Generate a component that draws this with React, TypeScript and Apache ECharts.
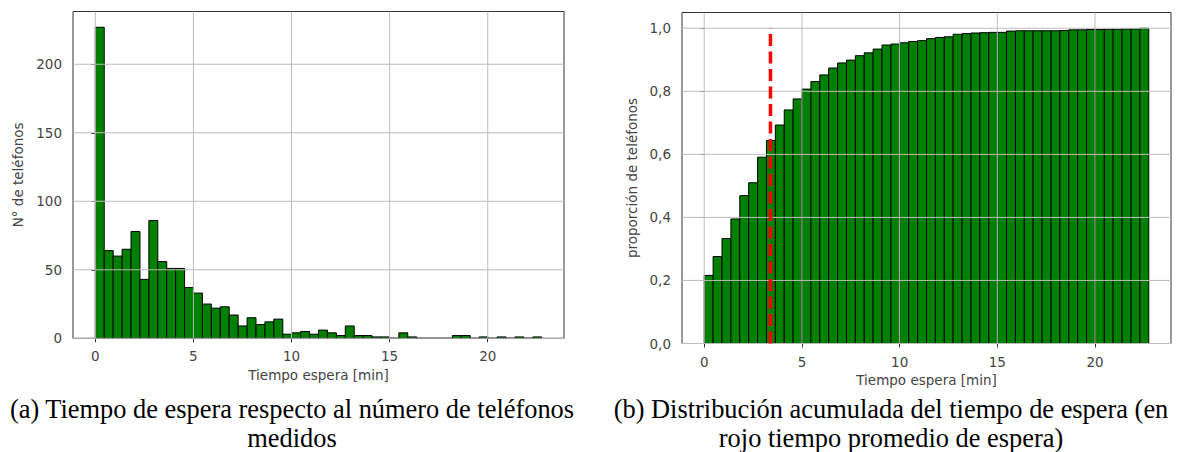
import React, { useEffect, useRef } from "react";
import * as echarts from "echarts";

// ---- data ----
const BIN_START = 0;
const BIN_WIDTH = 0.455; // minutes per histogram bin (50 bins)
const COUNTS = [
  227, 64, 60, 65, 78, 43, 86, 56, 51, 51,
  37, 33, 25, 22, 23, 17, 9, 15, 10, 12,
  14, 3, 4, 5, 3, 6, 4, 2, 9, 2,
  2, 1, 1, 0, 4, 1, 0, 0, 0, 0,
  2, 2, 0, 1, 0, 1, 0, 1, 0, 1,
];
const CUMULATIVE = [
  0.216, 0.276, 0.333, 0.395, 0.469, 0.51, 0.591, 0.644, 0.693, 0.741,
  0.776, 0.807, 0.831, 0.852, 0.874, 0.89, 0.899, 0.913, 0.922, 0.934,
  0.947, 0.95, 0.954, 0.958, 0.961, 0.967, 0.971, 0.973, 0.981, 0.983,
  0.985, 0.986, 0.987, 0.987, 0.991, 0.992, 0.992, 0.992, 0.992, 0.992,
  0.993, 0.995, 0.995, 0.996, 0.996, 0.997, 0.997, 0.998, 0.998, 1.0,
];
const MEAN_WAIT = 3.39;
const X_TICKS = [0, 5, 10, 15, 20];
const Y_TICKS_COUNT = [0, 50, 100, 150, 200];
const Y_TICKS_PROP = [0, 0.2, 0.4, 0.6, 0.8, 1.0];

const X_LABEL = "Tiempo espera [min]";
const Y_LABEL_COUNT = "N° de teléfonos";
const Y_LABEL_PROP = "proporción de teléfonos";
const CAPTION_A = ["(a) Tiempo de espera respecto al número de teléfonos", "medidos"];
const CAPTION_B = ["(b) Distribución acumulada del tiempo de espera (en", "rojo tiempo promedio de espera)"];

// ---- styles ----
const GREEN = "#008000";
const GRID_COLOR = "#bdbdbd";
const FRAME = "#333333";
const TEXT = "#444444";
const SANS = "DejaVu Sans";
const TICK_FONT = 13.5;
const CAP_FONT = '26.4px "Liberation Serif"';

function binData(values: number[]) {
  return values.map((v, i) => [BIN_START + i * BIN_WIDTH, BIN_START + (i + 1) * BIN_WIDTH, v]);
}

function barSeries(values: number[], gi: number) {
  return {
    type: "custom",
    xAxisIndex: gi,
    yAxisIndex: gi,
    z: 2,
    silent: true,
    encode: { x: [0, 1], y: 2 },
    data: binData(values),
    renderItem: (params: any, api: any) => {
      const p0 = api.coord([api.value(0), 0]);
      const p1 = api.coord([api.value(1), api.value(2)]);
      return {
        type: "rect",
        shape: { x: p0[0], y: p1[1], width: p1[0] - p0[0], height: p0[1] - p1[1] },
        style: { fill: GREEN, stroke: "#000", lineWidth: 1 },
      };
    },
  };
}

function vGridSeries(ticks: number[], gi: number) {
  return {
    type: "custom",
    xAxisIndex: gi,
    yAxisIndex: gi,
    z: 3,
    silent: true,
    encode: { x: 0, y: 1 },
    data: ticks.map((t) => [t, 0]),
    renderItem: (params: any, api: any) => {
      const cs = params.coordSys;
      const x = api.coord([api.value(0), 0])[0];
      return {
        type: "line",
        shape: { x1: x, y1: cs.y, x2: x, y2: cs.y + cs.height },
        style: { stroke: GRID_COLOR, lineWidth: 1 },
      };
    },
  };
}

function hGridSeries(ticks: number[], gi: number) {
  return {
    type: "custom",
    xAxisIndex: gi,
    yAxisIndex: gi,
    z: 3,
    silent: true,
    encode: { x: 0, y: 1 },
    data: ticks.map((t) => [0, t]),
    renderItem: (params: any, api: any) => {
      const cs = params.coordSys;
      const y = api.coord([0, api.value(1)])[1];
      return {
        type: "line",
        shape: { x1: cs.x, y1: y, x2: cs.x + cs.width, y2: y },
        style: { stroke: GRID_COLOR, lineWidth: 1 },
      };
    },
  };
}

function xAxis(gi: number, nameGap: number) {
  return {
    type: "value",
    gridIndex: gi,
    min: -1.1375,
    max: 23.8875,
    axisLine: { show: false },
    splitLine: { show: false },
    axisTick: { show: true, customValues: X_TICKS, length: 4, lineStyle: { color: FRAME, width: 1 } },
    axisLabel: { customValues: X_TICKS, margin: 11, fontSize: TICK_FONT, color: TEXT, fontFamily: SANS },
    name: X_LABEL,
    nameLocation: "middle",
    nameGap,
    nameTextStyle: { fontSize: TICK_FONT, color: TEXT, fontFamily: SANS },
  };
}

function caption(lines: string[], x: number) {
  return {
    type: "text",
    x,
    y: 423.5,
    scaleY: 1.06,
    originX: 0,
    originY: 0,
    silent: true,
    style: {
      text: lines.join("\n"),
      font: CAP_FONT,
      lineHeight: 27,
      fill: "#000",
      align: "center",
      verticalAlign: "middle",
    },
  };
}

export default function App() {
  const ref = useRef<HTMLDivElement>(null);

  useEffect(() => {
    if (!ref.current) return;
    const chart = echarts.init(ref.current, undefined, { renderer: "svg" });
    const option: any = {
      animation: false,
      backgroundColor: "#ffffff",
      grid: [
        { left: 73, top: 11.5, width: 491, height: 326.8, show: true, borderColor: FRAME, borderWidth: 1, backgroundColor: "transparent" },
        { left: 682, top: 12.5, width: 489, height: 331, show: true, borderColor: FRAME, borderWidth: 1, backgroundColor: "transparent" },
      ],
      xAxis: [xAxis(0, 29), xAxis(1, 28)],
      yAxis: [
        {
          type: "value",
          gridIndex: 0,
          min: 0,
          max: 238.5,
          axisLine: { show: false },
          splitLine: { show: false },
          axisTick: { show: true, customValues: Y_TICKS_COUNT, length: 4, lineStyle: { color: FRAME, width: 1 } },
          axisLabel: { customValues: Y_TICKS_COUNT, margin: 11, fontSize: TICK_FONT, color: TEXT, fontFamily: SANS },
          name: Y_LABEL_COUNT,
          nameLocation: "middle",
          nameRotate: 90,
          nameGap: 48,
          nameTextStyle: { fontSize: TICK_FONT, color: TEXT, fontFamily: SANS },
        },
        {
          type: "value",
          gridIndex: 1,
          min: 0,
          max: 1.05,
          axisLine: { show: false },
          splitLine: { show: false },
          axisTick: { show: true, customValues: Y_TICKS_PROP, length: 4, lineStyle: { color: FRAME, width: 1 } },
          axisLabel: {
            customValues: Y_TICKS_PROP,
            margin: 11,
            fontSize: TICK_FONT,
            color: TEXT,
            fontFamily: SANS,
            formatter: (v: number) => v.toFixed(1).replace(".", ","),
          },
          name: Y_LABEL_PROP,
          nameLocation: "middle",
          nameRotate: 90,
          nameGap: 43,
          nameTextStyle: { fontSize: TICK_FONT, color: TEXT, fontFamily: SANS },
        },
      ],
      series: [
        barSeries(COUNTS, 0),
        vGridSeries(X_TICKS, 0),
        hGridSeries(Y_TICKS_COUNT, 0),
        barSeries(CUMULATIVE, 1),
        vGridSeries(X_TICKS, 1),
        hGridSeries(Y_TICKS_PROP, 1),
        {
          type: "line",
          xAxisIndex: 1,
          yAxisIndex: 1,
          z: 5,
          silent: true,
          symbol: "none",
          data: [
            [MEAN_WAIT, 0],
            [MEAN_WAIT, 1],
          ],
          lineStyle: { color: "#ff0000", width: 3.5, type: [12, 5.5] },
        },
      ],
      graphic: [caption(CAPTION_A, 292), caption(CAPTION_B, 891)],
    };
    chart.setOption(option);
    return () => chart.dispose();
  }, []);

  return (
    <div
      ref={ref}
      style={{ position: "absolute", left: 0, top: 0, width: 1179, height: 452, background: "#fff" }}
    />
  );
}
